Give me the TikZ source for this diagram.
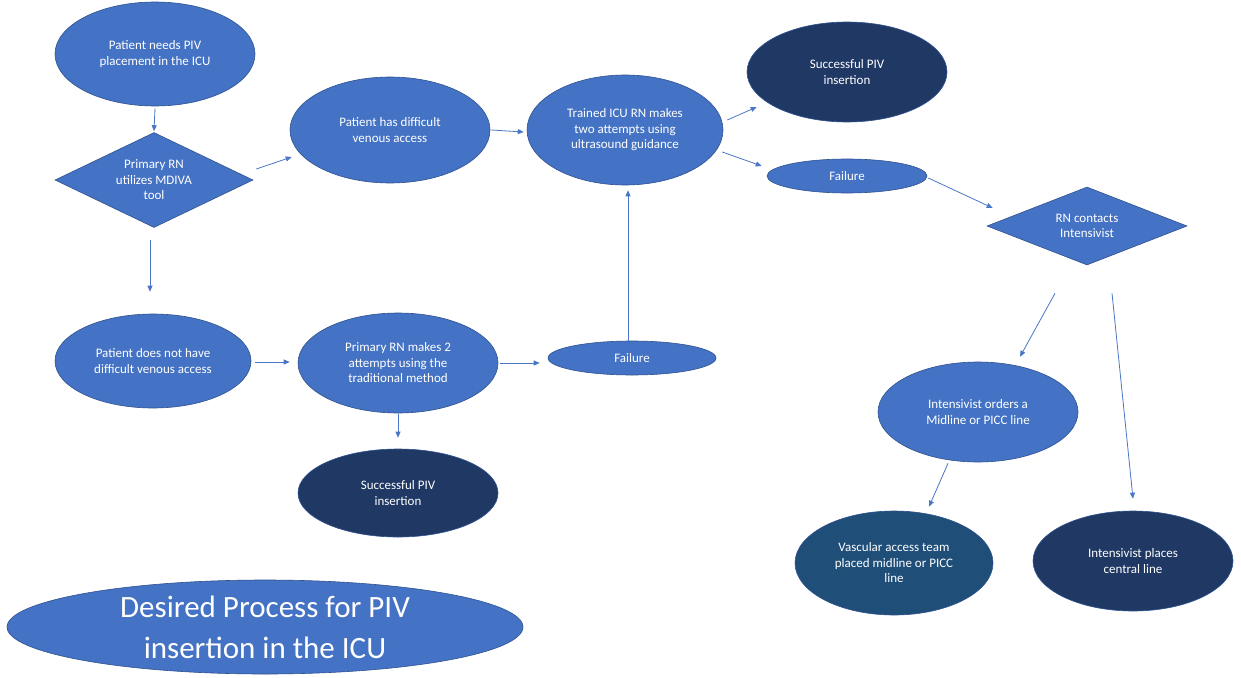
\documentclass[tikz,border=0pt]{standalone}
\usepackage{fontspec}
\setmainfont{Carlito}
\usetikzlibrary{shapes.geometric,arrows.meta}
\definecolor{midblue}{HTML}{4472C4}
\definecolor{navyblue}{HTML}{203864}
\definecolor{tealblue}{HTML}{1F4E79}
\definecolor{edgeblue}{HTML}{2F528F}
\definecolor{arrowblue}{HTML}{4A76C6}
\begin{document}
\begin{tikzpicture}[x=1pt,y=-1pt,
  oval/.style={ellipse, draw=edgeblue, line width=0.6pt, fill=midblue, text=white,
    align=center, inner sep=0pt, font=\fontsize{13}{15.5}\selectfont},
  darkoval/.style={oval, fill=navyblue},
  tealoval/.style={oval, fill=tealblue},
  decision/.style={diamond, draw=edgeblue, line width=0.6pt, fill=midblue, text=white,
    align=center, inner sep=0pt, font=\fontsize{13}{15.5}\selectfont},
  arr/.style={draw=arrowblue, line width=0.8pt, -{Triangle[length=6pt,width=5pt]}}
]
\useasboundingbox (0,0) rectangle (1241,677);
\fill[white] (0,0) rectangle (1241,677);

% nodes
\node[oval, minimum width=200pt, minimum height=104pt] (need) at (155,54) {Patient needs PIV\\placement in the ICU};
\node[decision, shape aspect=2.08, minimum width=198pt, minimum height=95pt] (mdiva) at (154,180) {Primary RN\\utilizes MDIVA\\tool};
\node[oval, minimum width=200pt, minimum height=106pt] (diff) at (390,130) {Patient has difficult\\venous access};
\node[oval, minimum width=196pt, minimum height=110pt] (trained) at (625,130) {Trained ICU RN makes\\two attempts using\\ultrasound guidance};
\node[darkoval, minimum width=200pt, minimum height=100pt] (succA) at (847,72) {Successful PIV\\insertion};
\node[oval, minimum width=160pt, minimum height=34pt] (failA) at (847,176) {Failure};
\node[decision, shape aspect=2.56, minimum width=200pt, minimum height=78pt] (rnc) at (1087,226) {RN contacts\\Intensivist};
\node[oval, minimum width=200pt, minimum height=100pt] (orders) at (978,412) {Intensivist orders a\\Midline or PICC line};
\node[tealoval, minimum width=198pt, minimum height=104pt] (vasc) at (894,563) {Vascular access team\\placed midline or PICC\\line};
\node[darkoval, minimum width=200pt, minimum height=100pt] (central) at (1133,561) {Intensivist places\\central line};
\node[oval, minimum width=196pt, minimum height=94pt] (nodiff) at (153,361) {Patient does not have\\difficult venous access};
\node[oval, minimum width=200pt, minimum height=100pt] (prim) at (398,363) {Primary RN makes 2\\attempts using the\\traditional method};
\node[oval, minimum width=168pt, minimum height=34pt] (failB) at (632,358) {Failure};
\node[darkoval, minimum width=200pt, minimum height=88pt] (succB) at (398,493) {Successful PIV\\insertion};
\node[oval, minimum width=516pt, minimum height=94pt, font=\fontsize{31}{41}\selectfont] (title) at (265,627) {Desired Process for PIV\\insertion in the ICU};

% connectors
\draw[arr] ([shift={(0,2)}]need.south) -- ([shift={(0,-1)}]mdiva.north);
\draw[arr] ([shift={(3,-11)}]mdiva.east) -- ([shift={(2,27)}]diff.west);
\draw[arr] ([shift={(-4,12)}]mdiva.south) -- ([shift={(-3,-22)}]nodiff.north);
\draw[arr] ([shift={(1,0)}]diff.east) -- ([shift={(-3,2)}]trained.west);
\draw[arr] ([shift={(4,-10)}]trained.east) -- ([shift={(10,35)}]succA.west);
\draw[arr] ([shift={(-1,22)}]trained.east) -- ([shift={(-5,-10)}]failA.west);
\draw[arr] ([shift={(1,2)}]failA.east) -- ([shift={(6,-18)}]rnc.west);
\draw[arr] ([shift={(-32,28)}]rnc.south) -- ([shift={(42,-5)}]orders.north);
\draw[arr] ([shift={(25,28)}]rnc.south) -- ([shift={(0,-12)}]central.north);
\draw[arr] ([shift={(-30,1)}]orders.south) -- ([shift={(35,-4)}]vasc.north);
\draw[arr] ([shift={(4,1)}]nodiff.east) -- ([shift={(-8,-1)}]prim.west);
\draw[arr] ([shift={(2,0)}]prim.east) -- ([shift={(-8,5)}]failB.west);
\draw[arr] ([shift={(-4,0)}]failB.north) -- ([shift={(3,5)}]trained.south);
\draw[arr] ([shift={(0,1)}]prim.south) -- ([shift={(0,-11)}]succB.north);
\end{tikzpicture}
\end{document}
